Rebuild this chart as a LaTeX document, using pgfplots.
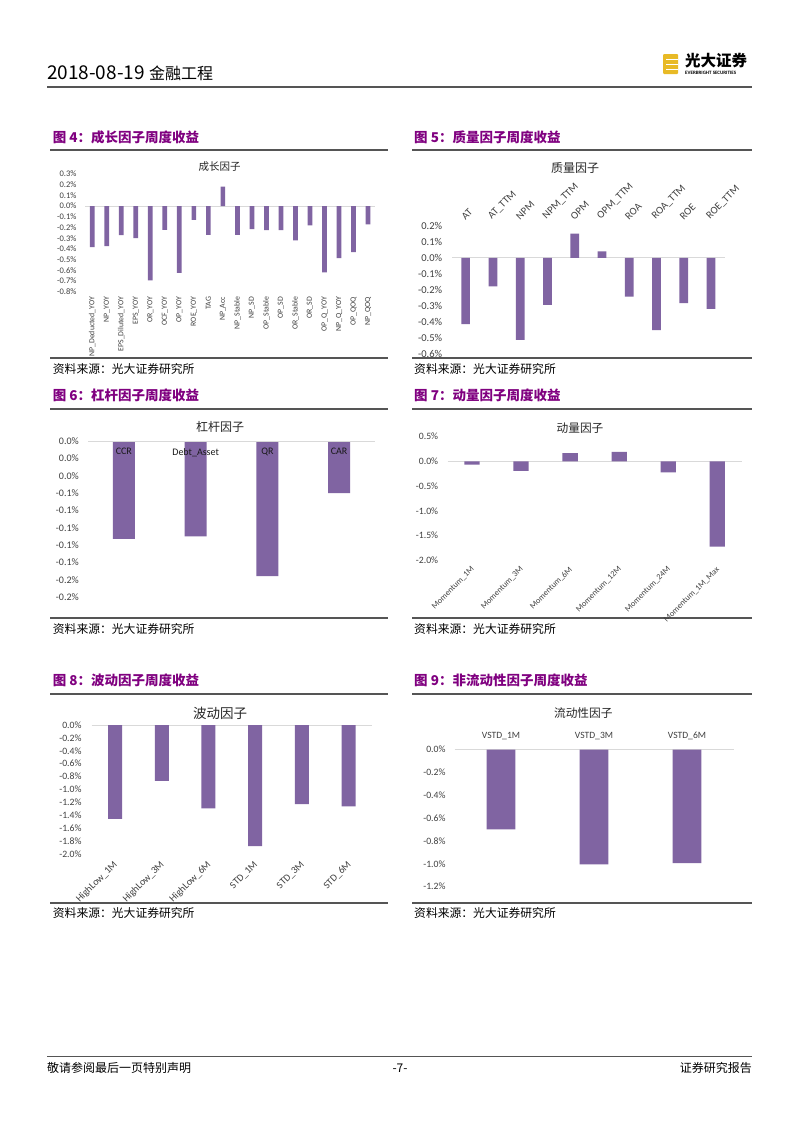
\documentclass[border=0pt]{standalone}
\usepackage{pgfplots}
\pgfplotsset{compat=1.18}
\usepackage{fontspec}
\setmainfont{Carlito}
\newfontfamily\cjk{Noto Sans CJK SC}
\definecolor{barc}{RGB}{128,100,162}
\definecolor{ttl}{RGB}{128,0,128}
\definecolor{zl}{RGB}{217,217,217}
\definecolor{rulec}{RGB}{85,85,85}
\definecolor{gold}{RGB}{232,186,38}
\definecolor{lbl}{RGB}{64,64,64}
\newcommand\fs[1]{\fontsize{#1}{#1}\selectfont}
\pgfplotsset{
  excel/.style={
    scale only axis, anchor=north west,
    axis line style={draw=none},
    major tick length=0pt,
    enlargelimits=false,
    ybar, clip=false,
    tick label style={text=lbl},
    yticklabel style={anchor=east, inner sep=0pt},
    xticklabel style={inner sep=0pt},
    extra y ticks={0}, extra y tick labels={},
    major grid style={draw=zl, line width=0.9pt},
    extra y tick style={grid=major},
  },
  bars/.style={fill=barc, draw=none},
}
\begin{document}
\begin{tikzpicture}
\useasboundingbox (0,0) rectangle (802pt,-1133pt);
\fill[white] (0,0) rectangle (802pt,-1133pt);
% header
\node[anchor=base west, inner sep=0pt] at (47pt,-79pt) {\cjk\fs{19}2018-08-19 {\fs{16}金融工程}};
\fill[gold, rounded corners=1pt] (663pt,-54pt) rectangle (678pt,-74pt);
\draw[white, line width=0.8pt] (666pt,-59pt) -- (678pt,-59pt) (666pt,-64pt) -- (678pt,-64pt) (666pt,-69pt) -- (678pt,-69pt);
\node[anchor=west, inner sep=0pt] at (685pt,-61pt) {\cjk\bfseries\fs{15.5}光大证券};
\node[anchor=west, inner sep=0pt] at (685pt,-72.5pt) {\bfseries\fs{5}EVERBRIGHT SECURITIES};
\draw[rulec, line width=1.2pt] (47pt,-87pt) -- (752pt,-87pt);
% footer
\draw[rulec, line width=1pt] (47pt,-1056pt) -- (752pt,-1056pt);
\node[anchor=west, inner sep=0pt] at (47pt,-1068pt) {\cjk\fs{12}敬请参阅最后一页特别声明};
\node[inner sep=0pt] at (400pt,-1068pt) {\cjk\fs{12}-7-};
\node[anchor=east, inner sep=0pt] at (752pt,-1068pt) {\cjk\fs{12}证券研究报告};
% panel frames
\foreach \xa/\xb/\xt in {50/388/52.7, 412/752/414}{
  \draw[rulec, line width=1.6pt] (\xa pt,-150pt) -- (\xb pt,-150pt);
  \draw[rulec, line width=1.6pt] (\xa pt,-358pt) -- (\xb pt,-358pt);
  \draw[rulec, line width=1.6pt] (\xa pt,-409pt) -- (\xb pt,-409pt);
  \draw[rulec, line width=1.6pt] (\xa pt,-618pt) -- (\xb pt,-618pt);
  \draw[rulec, line width=1.6pt] (\xa pt,-694pt) -- (\xb pt,-694pt);
  \draw[rulec, line width=1.6pt] (\xa pt,-903pt) -- (\xb pt,-903pt);
  \node[anchor=west, inner sep=0pt] at (\xt pt,-368.5pt) {\cjk\fs{11.8}资料来源：光大证券研究所};
  \node[anchor=west, inner sep=0pt] at (\xt pt,-628.5pt) {\cjk\fs{11.8}资料来源：光大证券研究所};
  \node[anchor=west, inner sep=0pt] at (\xt pt,-913pt) {\cjk\fs{11.8}资料来源：光大证券研究所};
}
\node[anchor=west, inner sep=0pt, text=ttl] at (52.7pt,-137pt) {\cjk\bfseries\fs{13.5}图 4：成长因子周度收益};
\node[anchor=west, inner sep=0pt, text=ttl] at (414pt,-137pt) {\cjk\bfseries\fs{13.5}图 5：质量因子周度收益};
\node[anchor=west, inner sep=0pt, text=ttl] at (52.7pt,-395pt) {\cjk\bfseries\fs{13.5}图 6：杠杆因子周度收益};
\node[anchor=west, inner sep=0pt, text=ttl] at (414pt,-395pt) {\cjk\bfseries\fs{13.5}图 7：动量因子周度收益};
\node[anchor=west, inner sep=0pt, text=ttl] at (52.7pt,-680pt) {\cjk\bfseries\fs{13.5}图 8：波动因子周度收益};
\node[anchor=west, inner sep=0pt, text=ttl] at (414pt,-680pt) {\cjk\bfseries\fs{13.5}图 9：非流动性因子周度收益};
% chart titles
\node[text=black!85] at (219.5pt,-166.5pt) {\cjk\fs{10.5}成长因子};
\node[text=black!85] at (575pt,-168pt) {\cjk\fs{12}质量因子};
\node[text=black!85] at (220pt,-426.7pt) {\cjk\fs{12}杠杆因子};
\node[text=black!85] at (580pt,-427.7pt) {\cjk\fs{11.7}动量因子};
\node[text=black!85] at (220pt,-713.3pt) {\cjk\fs{13.5}波动因子};
\node[text=black!85] at (583.3pt,-713.3pt) {\cjk\fs{11.7}流动性因子};

% ---------- Chart 4 ----------
\begin{axis}[excel, at={(85pt,-174pt)}, width=290.3pt, height=117.7pt,
  xmin=-0.5, xmax=19.5, ymin=-0.8, ymax=0.3, bar width=4.7pt,
  ytick={-0.8,-0.7,-0.6,-0.5,-0.4,-0.3,-0.2,-0.1,0,0.1,0.2,0.3},
  yticklabels={-0.8\%,-0.7\%,-0.6\%,-0.5\%,-0.4\%,-0.3\%,-0.2\%,-0.1\%,0.0\%,0.1\%,0.2\%,0.3\%},
  yticklabel style={font=\fs{8.5}, xshift=-8.3pt},
  xtick={0,...,19},
  xticklabels={NP\_Deducted\_YOY,NP\_YOY,EPS\_Diluted\_YOY,EPS\_YOY,OR\_YOY,OCF\_YOY,OP\_YOY,ROE\_YOY,TAG,NP\_Acc,NP\_Stable,NP\_SD,OP\_Stable,OP\_SD,OR\_Stable,OR\_SD,OP\_Q\_YOY,NP\_Q\_YOY,OP\_QOQ,NP\_QOQ},
  xticklabel style={font=\fs{7.8}, yshift=-5pt, rotate=90, anchor=east},
]
\addplot[bars] coordinates {(0,-0.383) (1,-0.374) (2,-0.271) (3,-0.299) (4,-0.695) (5,-0.221) (6,-0.623) (7,-0.128) (8,-0.268) (9,0.181) (10,-0.268) (11,-0.215) (12,-0.224) (13,-0.224) (14,-0.321) (15,-0.181) (16,-0.620) (17,-0.486) (18,-0.430) (19,-0.171)};
\end{axis}

% ---------- Chart 5 ----------
\begin{axis}[excel, at={(452pt,-225.7pt)}, width=272.7pt, height=128.6pt,
  xmin=-0.5, xmax=9.5, ymin=-0.6, ymax=0.2, bar width=8.7pt,
  ytick={-0.6,-0.5,-0.4,-0.3,-0.2,-0.1,0,0.1,0.2},
  yticklabels={-0.6\%,-0.5\%,-0.4\%,-0.3\%,-0.2\%,-0.1\%,0.0\%,0.1\%,0.2\%},
  yticklabel style={font=\fs{10.5}, xshift=-9.7pt},
  xtick={0,...,9}, xticklabel pos=upper,
  xticklabels={AT,AT\_TTM,NPM,NPM\_TTM,OPM,OPM\_TTM,ROA,ROA\_TTM,ROE,ROE\_TTM},
  xticklabel style={font=\fs{10.5}, yshift=5pt, rotate=45, anchor=south west},
]
\addplot[bars] coordinates {(0,-0.413) (1,-0.178) (2,-0.510) (3,-0.293) (4,0.151) (5,0.041) (6,-0.241) (7,-0.450) (8,-0.282) (9,-0.317)};
\end{axis}

% ---------- Chart 6 ----------
\begin{axis}[excel, axis on top, at={(88pt,-441pt)}, width=287pt, height=156pt,
  xmin=-0.5, xmax=3.5, ymin=-0.18, ymax=0, bar width=22pt,
  ytick={-0.18,-0.16,-0.14,-0.12,-0.10,-0.08,-0.06,-0.04,-0.02,0},
  yticklabels={-0.2\%,-0.2\%,-0.1\%,-0.1\%,-0.1\%,-0.1\%,-0.1\%,0.0\%,0.0\%,0.0\%},
  yticklabel style={font=\fs{10}, xshift=-9pt},
  xtick={0,...,3}, xticklabel pos=upper,
  xticklabels={CCR,Debt\_Asset,QR,CAR},
  xticklabel style={font=\fs{10}, anchor=north, yshift=-7pt, text=black!90},
]
\addplot[bars] coordinates {(0,-0.113) (1,-0.110) (2,-0.156) (3,-0.060)};
\end{axis}

% ---------- Chart 7 ----------
\begin{axis}[excel, at={(447.5pt,-436.7pt)}, width=294.3pt, height=123.6pt,
  xmin=-0.5, xmax=5.5, ymin=-2, ymax=0.5, bar width=15.3pt,
  ytick={-2,-1.5,-1,-0.5,0,0.5},
  yticklabels={-2.0\%,-1.5\%,-1.0\%,-0.5\%,0.0\%,0.5\%},
  yticklabel style={font=\fs{9.7}, xshift=-9.2pt},
  xtick={0,...,5},
  xticklabels={Momentum\_1M,Momentum\_3M,Momentum\_6M,Momentum\_12M,Momentum\_24M,Momentum\_1M\_Max},
  xticklabel style={font=\fs{8.3}, yshift=-8pt, xshift=1pt, rotate=45, anchor=east},
]
\addplot[bars] coordinates {(0,-0.067) (1,-0.189) (2,0.168) (3,0.195) (4,-0.222) (5,-1.725)};
\end{axis}

% ---------- Chart 8 ----------
\begin{axis}[excel, at={(91.7pt,-725pt)}, width=280.3pt, height=129pt,
  xmin=-0.5, xmax=5.5, ymin=-2, ymax=0, bar width=14pt,
  ytick={-2,-1.8,-1.6,-1.4,-1.2,-1,-0.8,-0.6,-0.4,-0.2,0},
  yticklabels={-2.0\%,-1.8\%,-1.6\%,-1.4\%,-1.2\%,-1.0\%,-0.8\%,-0.6\%,-0.4\%,-0.2\%,0.0\%},
  yticklabel style={font=\fs{9.7}, xshift=-10pt},
  xtick={0,...,5},
  xticklabels={HighLow\_1M,HighLow\_3M,HighLow\_6M,STD\_1M,STD\_3M,STD\_6M},
  xticklabel style={font=\fs{10}, yshift=-9pt, xshift=1pt, rotate=45, anchor=east},
]
\addplot[bars] coordinates {(0,-1.457) (1,-0.868) (2,-1.292) (3,-1.876) (4,-1.225) (5,-1.261)};
\end{axis}

% ---------- Chart 9 ----------
\begin{axis}[excel, at={(454.5pt,-749.7pt)}, width=279pt, height=137pt,
  xmin=-0.5, xmax=2.5, ymin=-1.2, ymax=0, bar width=28.7pt,
  ytick={-1.2,-1,-0.8,-0.6,-0.4,-0.2,0},
  yticklabels={-1.2\%,-1.0\%,-0.8\%,-0.6\%,-0.4\%,-0.2\%,0.0\%},
  yticklabel style={font=\fs{9.7}, xshift=-8.8pt},
  xtick={0,...,2}, xticklabel pos=upper,
  xticklabels={VSTD\_1M,VSTD\_3M,VSTD\_6M},
  xticklabel style={font=\fs{9.6}, anchor=south, yshift=9.5pt},
]
\addplot[bars] coordinates {(0,-0.698) (1,-1.004) (2,-0.993)};
\end{axis}
\end{tikzpicture}
\end{document}
